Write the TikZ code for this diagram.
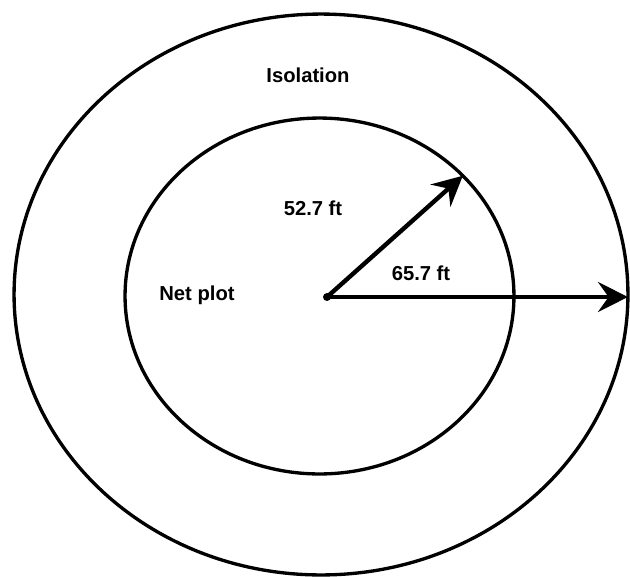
\documentclass[tikz,border=0pt]{standalone}
\usepackage{fontspec}
\setmainfont{Liberation Sans}
\usetikzlibrary{shapes.geometric, arrows.meta}
\tikzset{
    zone/.style={ellipse, draw, line width=1.9pt, inner sep=0pt, outer sep=0pt},
    centre/.style={circle, fill=black, minimum size=1.6mm, inner sep=0pt},
    radius/.style={-{Stealth[length=17pt, width=17pt, inset=6pt]}, line width=2.5pt},
    lbl/.style={font=\fontsize{11.5}{13}\selectfont\bfseries, anchor=base, inner sep=0pt},
}
\begin{document}
\begin{tikzpicture}[x=0.02cm, y=-0.02cm]

    \useasboundingbox (0,0) rectangle (630,576);

    \node[zone, minimum width=12.28cm, minimum height=11.22cm] (outer) at (321,294.5) {};
    \node[zone, minimum width=7.78cm, minimum height=7.12cm] (inner) at (319.5,296) {};

    \node[centre] (ctr) at (327,297) {};

    % Radius of the net plot
    \draw[radius] (ctr.center) -- (inner.40.6);

    % Radius with isolation
    \draw[radius] (ctr.center) -- (ctr.center -| outer.east);

    \node[lbl] (isol) at (308,82.5) {Isolation};
    \node[lbl] (rin) at (313,215) {52.7 ft};
    \node[lbl] (rout) at (421,280) {65.7 ft};
    \node[lbl] (net) at (197,300) {Net plot};

\end{tikzpicture}
\end{document}
